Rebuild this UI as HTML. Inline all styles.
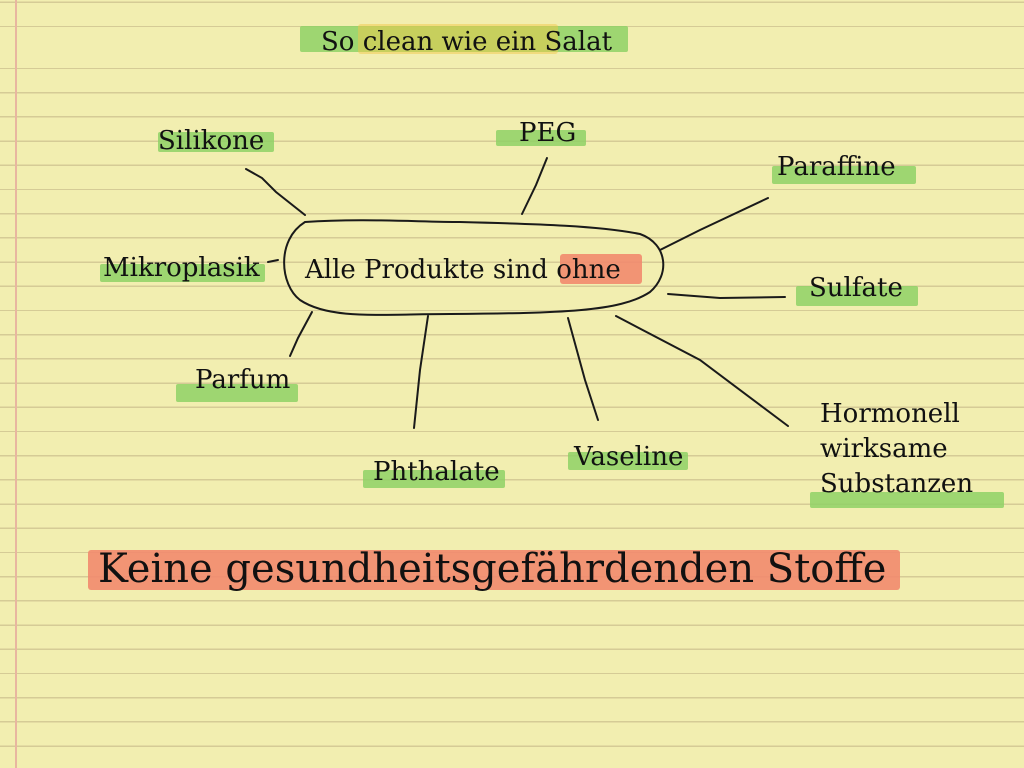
<!DOCTYPE html>
<html><head><meta charset="utf-8"><style>
html,body{margin:0;padding:0}
body{width:1024px;height:768px;position:relative;overflow:hidden;background:#f2eeb0;
background-image:repeating-linear-gradient(to bottom,transparent 0,transparent 22.8px,rgba(170,150,110,0.4) 22.8px,rgba(170,150,110,0.4) 24.2px);
background-position:0 45px;font-family:"DejaVu Serif","Liberation Serif",serif;color:#111}
.m{position:absolute;left:15px;top:0;width:2px;height:768px;background:#e8b6a0}
.t{position:absolute;font-size:26px;white-space:nowrap;line-height:30px;letter-spacing:0}
.g{position:absolute;background:#8fd166;opacity:.85;border-radius:2px}
.r{position:absolute;background:#f28a6e;opacity:.9;border-radius:3px}
svg{position:absolute;left:0;top:0}
</style></head><body>
<div class="m"></div>
<div class="g" style="left:300px;top:26px;width:328px;height:26px"></div>
<div style="position:absolute;left:358px;top:24px;width:200px;height:30px;background:#f0c84a;opacity:.5;border-radius:3px"></div>
<div class="g" style="left:158px;top:132px;width:116px;height:20px"></div>
<div class="g" style="left:496px;top:130px;width:90px;height:16px"></div>
<div class="g" style="left:772px;top:166px;width:144px;height:18px"></div>
<div class="g" style="left:100px;top:264px;width:165px;height:18px"></div>
<div class="g" style="left:796px;top:286px;width:122px;height:20px"></div>
<div class="g" style="left:176px;top:384px;width:122px;height:18px"></div>
<div class="g" style="left:363px;top:470px;width:142px;height:18px"></div>
<div class="g" style="left:568px;top:452px;width:120px;height:18px"></div>
<div class="g" style="left:810px;top:492px;width:194px;height:16px"></div>
<div class="r" style="left:560px;top:254px;width:82px;height:30px"></div>
<div class="r" style="left:88px;top:550px;width:812px;height:40px"></div>
<div class="t" style="left:321px;top:27px">So clean wie ein Salat</div>
<div class="t" style="left:158px;top:126px">Silikone</div>
<div class="t" style="left:519px;top:118px">PEG</div>
<div class="t" style="left:777px;top:152px">Paraffine</div>
<div class="t" style="left:103px;top:253px">Mikroplasik</div>
<div class="t" style="left:305px;top:255px">Alle Produkte sind ohne</div>
<div class="t" style="left:809px;top:273px">Sulfate</div>
<div class="t" style="left:195px;top:365px">Parfum</div>
<div class="t" style="left:373px;top:457px">Phthalate</div>
<div class="t" style="left:574px;top:442px">Vaseline</div>
<div class="t" style="left:820px;top:397px;line-height:35px">Hormonell<br>wirksame<br>Substanzen</div>
<div class="t" style="left:98px;top:547px;font-size:40px;line-height:44px">Keine gesundheitsgefährdenden Stoffe</div>
<svg width="1024" height="768" fill="none" stroke="#1a1a1a" stroke-width="2" stroke-linecap="round">
<path d="M305,222 C360,218 420,222 460,222 C540,224 600,226 640,234 C668,244 670,275 650,292 C620,312 560,313 450,314 C380,314 330,320 300,300 C280,285 276,240 305,222 Z"/>
<path d="M246,169 L262,178 L276,192 L305,215"/>
<path d="M547,158 L536,185 L522,214"/>
<path d="M768,198 L700,230 L660,250"/>
<path d="M268,262 L278,260"/>
<path d="M668,294 L720,298 L785,297"/>
<path d="M312,312 L298,338 L290,356"/>
<path d="M428,316 L420,370 L414,428"/>
<path d="M568,318 L585,380 L598,420"/>
<path d="M616,316 L700,360 L788,426"/>
</svg>
</body></html>
